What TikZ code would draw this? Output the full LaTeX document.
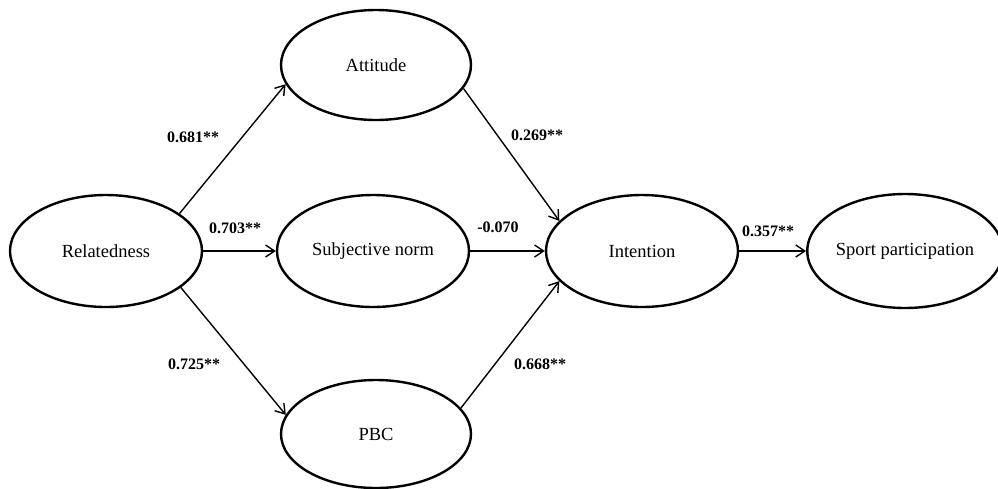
\documentclass[tikz,border=0pt]{standalone}
\usepackage{fontspec}
\setmainfont{Liberation Serif}
\usetikzlibrary{arrows.meta,shapes.geometric}
\begin{document}
\begin{tikzpicture}[x=1pt,y=-1pt,
  latent/.style={ellipse,draw,line width=2.4pt,inner sep=0pt,font=\fontsize{18.5}{20}\selectfont},
  path/.style={line width=1.4pt,-{Straight Barb[length=9pt,width=12pt,line width=1.4pt]}},
  coef/.style={font=\fontsize{16}{18}\selectfont\bfseries}]
\useasboundingbox (0,0) rectangle (998,488);
\node[latent,minimum width=192pt,minimum height=112pt] (rel) at (106,251) {Relatedness};
\node[latent,minimum width=190pt,minimum height=110pt] (att) at (376,65) {Attitude};
\node[latent,minimum width=192pt,minimum height=112pt] (sn) at (373,251) {Subjective norm};
\node[latent,minimum width=190pt,minimum height=108pt] (pbc) at (376,434) {PBC};
\node[latent,minimum width=192pt,minimum height=112pt] (int) at (642,251) {Intention};
\node[latent,minimum width=184pt,minimum height=114pt] (sp) at (905,251) {Sport participation};
\draw[path] (rel.27) -- (att.192);
\draw[path] (rel.east) -- (sn.west);
\draw[path] (rel.334) -- (pbc.168);
\draw[path] (att.345) -- (int.160);
\draw[path] (sn.east) -- (int.west);
\draw[path] (pbc.17) -- (int.200);
\draw[path] (int.east) -- (sp.west);
\node[coef] (c1) at (193,137) {0.681**};
\node[coef] (c2) at (235,228) {0.703**};
\node[coef] (c3) at (194,364) {0.725**};
\node[coef] (c4) at (537,135) {0.269**};
\node[coef] (c5) at (498,227) {-0.070};
\node[coef] (c6) at (540,364) {0.668**};
\node[coef] (c7) at (768,231) {0.357**};
\end{tikzpicture}
\end{document}
